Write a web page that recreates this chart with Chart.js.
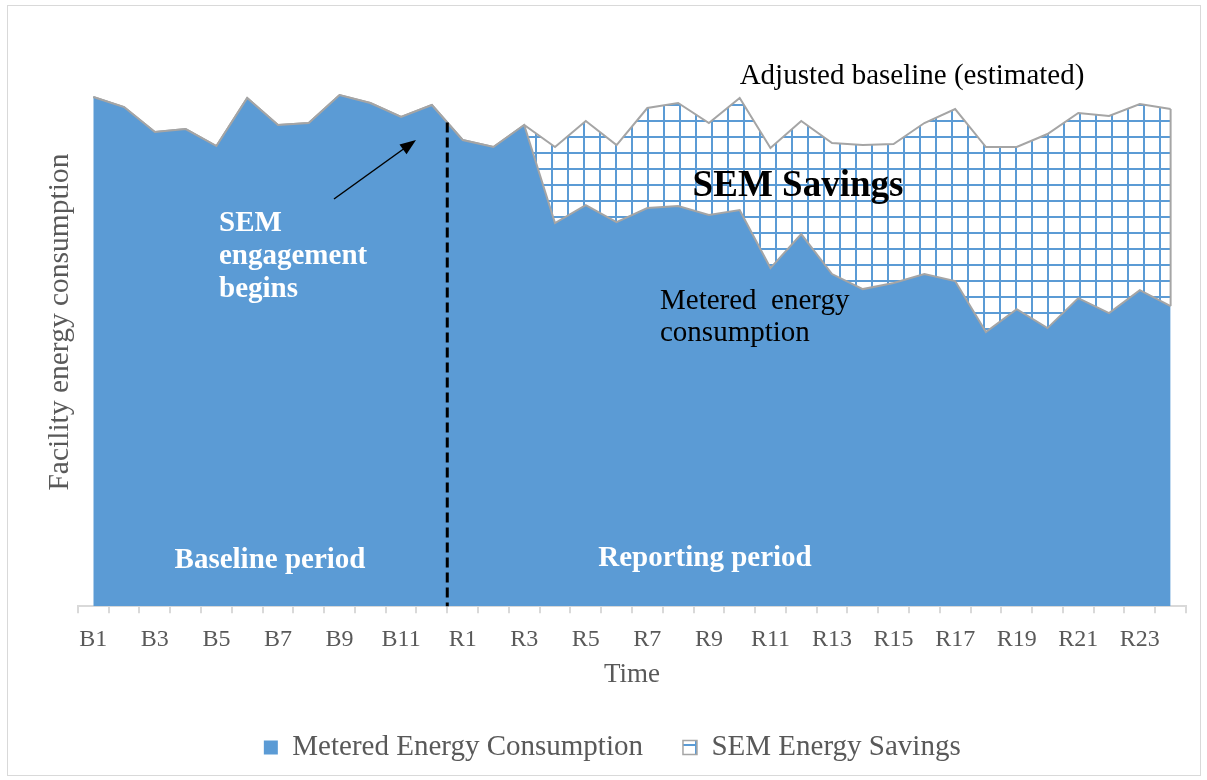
<!DOCTYPE html>
<html>
<head>
<meta charset="utf-8">
<title>SEM savings</title>
<script src="https://cdn.jsdelivr.net/npm/chart.js"></script>
<style>
  body { margin: 0; background: #fff; }
  .frame { position: absolute; left: 7px; top: 5px; width: 1192px; height: 769px; border: 1px solid #d9d9d9; }
  .wrap { position: absolute; left: 0; top: 0; width: 1207px; height: 780px; }
</style>
</head>
<body>
<div class="frame"></div>
<div class="wrap"><canvas id="chart"></canvas></div>
<script>
// time periods: 12 baseline, 24 reporting
const periods = ['B1','B2','B3','B4','B5','B6','B7','B8','B9','B10','B11','B12',
  'R1','R2','R3','R4','R5','R6','R7','R8','R9','R10','R11','R12',
  'R13','R14','R15','R16','R17','R18','R19','R20','R21','R22','R23','R24'];

// metered consumption (arbitrary units)
const metered = [509, 499, 474, 477, 460, 508, 481, 483, 511, 503, 489, 501,
  466, 459, 481, 383, 401, 384, 398, 400, 391, 396, 338, 372,
  332, 317, 323, 332, 325, 274, 297, 278, 308, 293, 316, 300];

// savings = adjusted baseline minus metered
const savings = [0, 0, 0, 0, 0, 0, 0, 0, 0, 0, 0, 0,
  0, 0, 0, 76, 84, 77, 100, 103, 92, 112, 120, 113,
  131, 144, 139, 151, 172, 185, 162, 194, 185, 197, 186, 197];

const serif = '"Liberation Serif", "Times New Roman", serif';
const blue = '#5b9bd5';
const edge = '#a5a5a5';

function gridPattern() {
  const c = document.createElement('canvas');
  c.width = 16; c.height = 16;
  const g = c.getContext('2d');
  g.fillStyle = '#fff';
  g.fillRect(0, 0, 16, 16);
  g.fillStyle = blue;
  g.fillRect(7, 0, 2, 16);
  g.fillRect(0, 8, 16, 2);
  return g.createPattern(c, 'repeat');
}

// text notes, arrow and the dashed divider
const notes = {
  id: 'notes',
  afterDatasetsDraw(chart) {
    const { ctx, scales: { x, y } } = chart;
    ctx.save();

    // right edge of the savings area
    const last = periods.length - 1;
    const xe = x.getPixelForValue(last);
    ctx.strokeStyle = edge;
    ctx.lineWidth = 2;
    ctx.beginPath();
    ctx.moveTo(xe, y.getPixelForValue(metered[last] + savings[last]));
    ctx.lineTo(xe, y.getPixelForValue(metered[last]));
    ctx.stroke();

    // dashed line where SEM starts
    const xd = (x.getPixelForValue(11) + x.getPixelForValue(12)) / 2;
    ctx.strokeStyle = '#000';
    ctx.lineWidth = 3;
    ctx.setLineDash([10, 5]);
    ctx.beginPath();
    ctx.moveTo(xd, y.getPixelForValue((metered[11] + metered[12]) / 2));
    ctx.lineTo(xd, y.getPixelForValue(0));
    ctx.stroke();
    ctx.setLineDash([]);

    // arrow
    const x0 = 334, y0 = 199, x1 = 416, y1 = 140;
    const a = Math.atan2(y1 - y0, x1 - x0);
    ctx.lineWidth = 1.5;
    ctx.beginPath();
    ctx.moveTo(x0, y0);
    ctx.lineTo(x1 - 12 * Math.cos(a), y1 - 12 * Math.sin(a));
    ctx.stroke();
    ctx.fillStyle = '#000';
    ctx.beginPath();
    ctx.moveTo(x1, y1);
    ctx.lineTo(x1 - 16 * Math.cos(a) + 6 * Math.sin(a), y1 - 16 * Math.sin(a) - 6 * Math.cos(a));
    ctx.lineTo(x1 - 16 * Math.cos(a) - 6 * Math.sin(a), y1 - 16 * Math.sin(a) + 6 * Math.cos(a));
    ctx.closePath();
    ctx.fill();

    ctx.textBaseline = 'middle';
    ctx.textAlign = 'center';
    ctx.fillStyle = '#000';
    ctx.font = '29px ' + serif;
    ctx.fillText('Adjusted baseline (estimated)', 912, 76);
    ctx.font = 'bold 37px ' + serif;
    ctx.fillText('SEM Savings', 798, 186);

    ctx.textAlign = 'left';
    ctx.font = '29px ' + serif;
    ctx.fillText('Metered  energy', 660, 301);
    ctx.fillText('consumption', 660, 333);

    ctx.fillStyle = '#fff';
    ctx.font = 'bold 29px ' + serif;
    ctx.fillText('SEM', 219, 224);
    ctx.fillText('engagement', 219, 257);
    ctx.fillText('begins', 219, 290);

    ctx.textAlign = 'center';
    ctx.fillText('Baseline period', 270, 561);
    ctx.fillText('Reporting period', 705, 559);
    ctx.restore();
  }
};

new Chart(document.getElementById('chart'), {
  type: 'line',
  data: {
    labels: periods,
    datasets: [
      { label: 'Metered Energy Consumption', data: metered, fill: 'origin',
        backgroundColor: blue, borderColor: edge, borderWidth: 2 },
      { label: 'SEM Energy Savings', data: savings, fill: '-1',
        backgroundColor: gridPattern(), borderColor: edge, borderWidth: 2 }
    ]
  },
  options: {
    responsive: true,
    maintainAspectRatio: false,
    animation: false,
    layout: { padding: { top: 38, left: 38.5, right: 21, bottom: 8 } },
    elements: { point: { radius: 0 }, line: { tension: 0 } },
    scales: {
      x: {
        offset: true,
        grid: { offset: true, drawOnChartArea: false, drawTicks: true, tickLength: 7, color: '#d9d9d9', lineWidth: 2 },
        border: { color: '#d9d9d9', width: 2 },
        ticks: {
          autoSkip: false, maxRotation: 0, padding: 12, color: '#595959',
          font: { family: serif, size: 24 },
          callback(v, i) { return i % 2 === 0 ? this.getLabelForValue(v) : ''; }
        },
        title: { display: true, text: 'Time', color: '#595959',
          font: { family: serif, size: 27, lineHeight: 0.63 }, padding: { top: 0, bottom: 10 } }
      },
      y: {
        stacked: true, min: 0, max: 568,
        ticks: { display: false },
        grid: { display: false, drawTicks: false },
        border: { display: false },
        title: { display: true, text: 'Facility energy consumption', color: '#595959',
          font: { family: serif, size: 29.5 }, padding: { top: 4, bottom: 0 } }
      }
    },
    plugins: {
      legend: {
        position: 'bottom',
        labels: {
          boxWidth: 14, boxHeight: 14, padding: 40, color: '#595959',
          font: { family: serif, size: 29 },
          generateLabels(chart) {
            const items = Chart.defaults.plugins.legend.labels.generateLabels(chart);
            items[0].lineWidth = 0;
            items[1].lineWidth = 1.5;
            return items;
          }
        }
      },
      tooltip: { enabled: false }
    }
  },
  plugins: [notes]
});
</script>
</body>
</html>
